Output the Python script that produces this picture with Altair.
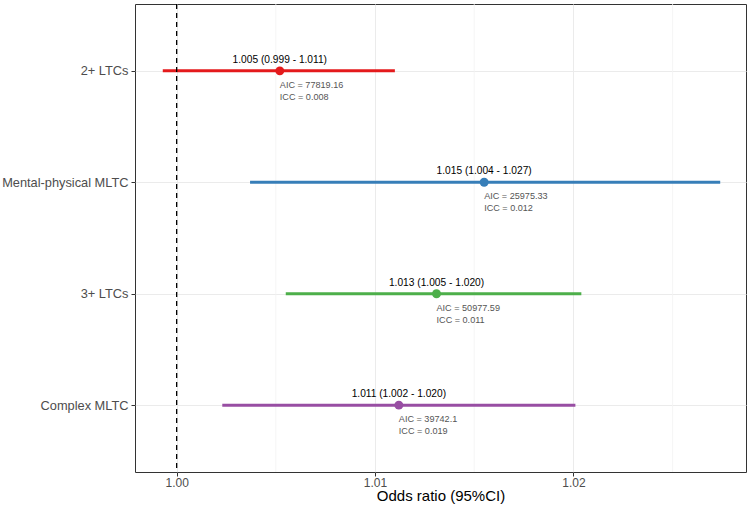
import altair as alt
import pandas as pd

models = ["2+ LTCs", "Mental-physical MLTC", "3+ LTCs", "Complex MLTC"]
odds = [1.0052, 1.0155, 1.0131, 1.0112]
lower = [0.9993, 1.0037, 1.0055, 1.0023]
upper = [1.0110, 1.0274, 1.0204, 1.0201]
or_labels = ["1.005 (0.999 - 1.011)", "1.015 (1.004 - 1.027)",
             "1.013 (1.005 - 1.020)", "1.011 (1.002 - 1.020)"]
aic_labels = ["AIC = 77819.16", "AIC = 25975.33", "AIC = 50977.59", "AIC = 39742.1"]
icc_labels = ["ICC = 0.008", "ICC = 0.012", "ICC = 0.011", "ICC = 0.019"]
colors = ["#E41A1C", "#377EB8", "#4DAF4A", "#984EA3"]
major_ticks = [1.00, 1.01, 1.02]
minor_ticks = [1.005, 1.015, 1.025]
ref_value = [1.00]

df = pd.DataFrame({"model": models, "or": odds, "lo": lower, "hi": upper,
                   "lab": or_labels, "aic": aic_labels, "icc": icc_labels})

FONT = "Liberation Sans"
xscale = alt.Scale(domain=[0.9979, 1.0287], nice=False, zero=False)
yscale = alt.Scale(type="point", domain=models, padding=0.6)
color = alt.Color("model:N", scale=alt.Scale(domain=models, range=colors), legend=None)

x_axis = alt.Axis(values=major_ticks, format=".2f", title="Odds ratio (95%CI)",
                  titleFont=FONT, titleFontSize=15, titleFontWeight="normal",
                  titleColor="#000000", titlePadding=0,
                  labelFont=FONT, labelFontSize=12, labelColor="#4d4d4d",
                  tickColor="#333333", tickSize=4, labelPadding=1,
                  grid=True, gridColor="#ebebeb", gridWidth=1,
                  domain=False)
y_axis = alt.Axis(title=None, labelFont=FONT, labelFontSize=12.8, labelColor="#4d4d4d",
                  tickColor="#333333", tickSize=4, labelPadding=3,
                  grid=True, gridColor="#ebebeb", gridWidth=1, domain=False)

base = alt.Chart(df)

minor = alt.Chart(pd.DataFrame({"v": minor_ticks})).mark_rule(
    color="#f2f2f2", strokeWidth=0.8).encode(x=alt.X("v:Q", scale=xscale))

ref = alt.Chart(pd.DataFrame({"v": ref_value})).mark_rule(
    color="black", strokeWidth=1.3, strokeDash=[5, 4]).encode(
    x=alt.X("v:Q", scale=xscale, axis=x_axis))

bars = base.mark_rule(strokeWidth=3).encode(
    x=alt.X("lo:Q", scale=xscale, axis=x_axis),
    x2="hi:Q",
    y=alt.Y("model:N", scale=yscale, axis=y_axis, sort=models),
    color=color)

pts = base.mark_circle(size=80, opacity=1).encode(
    x=alt.X("or:Q", scale=xscale), y=alt.Y("model:N", scale=yscale, sort=models),
    color=color)

lab = base.mark_text(font=FONT, fontSize=10.2, color="black", dy=-11).encode(
    x=alt.X("or:Q", scale=xscale), y=alt.Y("model:N", scale=yscale, sort=models),
    text="lab:N")

aic = base.mark_text(font=FONT, fontSize=9.1, color="#555555", align="left",
                     dy=14).encode(
    x=alt.X("or:Q", scale=xscale), y=alt.Y("model:N", scale=yscale, sort=models),
    text="aic:N")

icc = base.mark_text(font=FONT, fontSize=9.1, color="#555555", align="left",
                     dy=26).encode(
    x=alt.X("or:Q", scale=xscale), y=alt.Y("model:N", scale=yscale, sort=models),
    text="icc:N")

chart = alt.layer(minor, bars, ref, pts, lab, aic, icc).properties(
    width=611, height=468,
    autosize=alt.AutoSizeParams(type="none"),
    padding={"left": 135, "top": 4, "right": 6, "bottom": 39},
    background="white",
).configure_view(stroke="#333333", strokeWidth=1)

chart.save("out.html", embed_options={"renderer": "svg", "actions": False})
